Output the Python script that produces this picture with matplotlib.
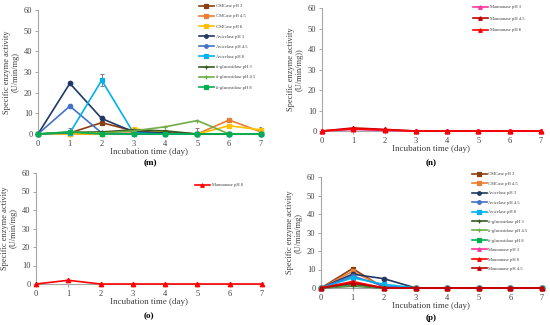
import matplotlib
matplotlib.use("Agg")
import matplotlib.pyplot as plt
import numpy as np

plt.rcParams['font.family'] = ['Liberation Serif', 'DejaVu Serif']

days = [0, 1, 2, 3, 4, 5, 6, 7]
y_ticks = [0, 10, 20, 30, 40, 50, 60]

# ---- panel (m) ----
m_labels = ["CMCase pH 3", "CMCase pH 4.5", "CMCase pH 8",
            "Avicelase pH 3", "Avicelase pH 4.5", "Avicelase pH 8",
            "ß-glucosidase pH 3", "ß-glucosidase pH 4.5", "ß-glucosidase pH 8"]
m_cmc_3 = [0, 0.5, 5.5, 1.5, 0.5, 0, 0, 0]
m_cmc_45 = [0, 0, 0, 0.5, 0, 0, 6.8, 1]
m_cmc_8 = [0, 0, 0, 2.5, 1, 0, 4, 2]
m_avi_3 = [0, 24.5, 7.5, 1, 0.5, 0, 0, 0]
m_avi_45 = [0, 13.5, 0.5, 0, 0, 0, 0, 0]
m_avi_8 = [0, 0.5, 26, 0.5, 0, 0, 0, 0]
m_glu_3 = [0, 0.8, 1, 2, 1.5, 0, 0, 0]
m_glu_45 = [0, 1, 0.5, 1.5, 3.5, 6.5, 0, 0]
m_glu_8 = [0, 1, 0, 0, 0, 0, 0, 0]
m_err_avi_8 = [0, 0, 3, 0, 0, 0, 0, 0]
m_err_glu_3 = [0, 2, 0, 0, 0, 3, 0, 0]
m_err_cmc_8 = [0, 0, 0, 0, 0, 0, 0, 1.5]

# ---- panel (n) ----
n_labels = ["Mannanase pH 3", "Mannanase pH 4.5", "Mannanase pH 8"]
n_man_3 = [0, 0.8, 0.3, 0, 0, 0, 0, 0]
n_man_45 = [0, 1.5, 0.8, 0, 0, 0, 0, 0]
n_man_8 = [0, 1.0, 0.5, 0, 0, 0, 0, 0]

# ---- panel (o) ----
o_labels = ["Mannanase pH 8"]
o_man_8 = [0, 2, 0, 0, 0, 0, 0, 0]

# ---- panel (p) ----
p_labels = ["CMCase pH 3", "CMCase pH 4.5", "Avicelase pH 3", "Avicelase pH 4.5",
            "Avicelase pH 8", "ß-glucosidase pH 3", "ß-glucosidase pH 4.5",
            "ß-glucosidase pH 8", "Mannanase pH 3", "Mannanase pH 8", "Mannanase pH 4.5"]
p_cmc_3 = [0, 10.5, 0, 0, 0, 0, 0, 0]
p_cmc_45 = [0, 9, 0.5, 0, 0, 0, 0, 0]
p_avi_3 = [0, 7.5, 5, 0, 0, 0, 0, 0]
p_avi_45 = [0, 6.5, 1, 0, 0, 0, 0, 0]
p_avi_8 = [0, 5.5, 2, 0, 0, 0, 0, 0]
p_glu_3 = [0, 1, 0, 0, 0, 0, 0, 0]
p_glu_45 = [0, 1.5, 0, 0, 0, 0, 0, 0]
p_glu_8 = [0, 2, 0, 0, 0, 0, 0, 0]
p_man_3 = [0, 3, 0, 0, 0, 0, 0, 0]
p_man_8 = [0, 3.5, 0, 0, 0, 0, 0, 0]
p_man_45 = [0, 2.5, 0, 0, 0, 0, 0, 0]

C = {
    'cmc3': '#8B3E12', 'cmc45': '#ED7D31', 'cmc8': '#FFC000',
    'avi3': '#203864', 'avi45': '#4472C4', 'avi8': '#00B0F0',
    'glu3': '#385723', 'glu45': '#70AD47', 'glu8': '#00B050',
    'man3': '#FF3399', 'man45': '#C00000', 'man8': '#FF0000',
}

W, H = 550, 325
fig = plt.figure(figsize=(5.5, 3.25), dpi=100)

AX_GREY = '#A6A6A6'
TXT = '#404040'


def make_axes(l, r, t, b, ylabel):
    ax = fig.add_axes([l / W, 1 - b / H, (r - l) / W, (b - t) / H])
    ax.set_xlim(0, 7)
    ax.set_ylim(0, 60)
    ax.set_xticks(days)
    ax.set_yticks(y_ticks)
    for s in ['top', 'right']:
        ax.spines[s].set_visible(False)
    for s in ['left', 'bottom']:
        ax.spines[s].set_color(AX_GREY)
        ax.spines[s].set_linewidth(0.8)
    ax.tick_params(axis='both', colors=AX_GREY, labelcolor=TXT, labelsize=6,
                   length=2.5, width=0.7, pad=1.5)
    ax.set_ylabel(ylabel, fontsize=6, color=TXT, labelpad=3, linespacing=1.1)
    ax.set_xlabel("Incubation time (day)", fontsize=6.5, color=TXT, labelpad=0.5)
    return ax


def series(ax, y, color, marker, label, yerr=None, ms=3.2):
    if yerr is not None:
        ax.errorbar(days, y, yerr=yerr, fmt='none', ecolor='#7F7F7F',
                    elinewidth=0.7, capsize=1.5, capthick=0.7, zorder=1)
    ax.plot(days, y, color=color, marker=marker, ms=ms, lw=1.2, label=label,
            markeredgewidth=0.9, clip_on=False, zorder=3)


def legend(ax, x, y, spacing):
    ax.legend(loc='upper left', bbox_to_anchor=(x / W, 1 - y / H),
              bbox_transform=fig.transFigure, frameon=False, fontsize=3.3,
              handlelength=3.2, handletextpad=0.4, labelspacing=spacing,
              borderpad=0, borderaxespad=0, markerscale=0.8, labelcolor=TXT)


def panel_label(x, y, s):
    fig.text(x / W, 1 - y / H, s, fontsize=6.5, fontweight='bold',
             ha='center', va='center', color='#000000')


# (m)
axm = make_axes(38, 261, 10, 134, "Specific enzyme activity\n(U/min/mg)")
series(axm, m_cmc_3, C['cmc3'], 's', m_labels[0])
series(axm, m_cmc_45, C['cmc45'], 's', m_labels[1])
series(axm, m_cmc_8, C['cmc8'], 's', m_labels[2], yerr=m_err_cmc_8)
series(axm, m_avi_3, C['avi3'], 'o', m_labels[3])
series(axm, m_avi_45, C['avi45'], 'o', m_labels[4])
series(axm, m_avi_8, C['avi8'], 's', m_labels[5], yerr=m_err_avi_8)
series(axm, m_glu_3, C['glu3'], '+', m_labels[6], yerr=m_err_glu_3)
series(axm, m_glu_45, C['glu45'], '+', m_labels[7])
series(axm, m_glu_8, C['glu8'], 's', m_labels[8])
legend(axm, 199, 4, 1.3)
panel_label(150, 163.5, "(m)")

# (n)
axn = make_axes(322, 541, 8, 131, "Specific enzyme activity\n(U/min/mg))")
series(axn, n_man_3, C['man3'], '^', n_labels[0])
series(axn, n_man_45, C['man45'], '^', n_labels[1])
series(axn, n_man_8, C['man8'], '^', n_labels[2])
legend(axn, 473, 5, 1.6)
panel_label(431, 163.5, "(n)")

# (o)
axo = make_axes(36, 262, 173, 284, "Specific enzyme activity\n(U/min/mg)")
series(axo, o_man_8, C['man8'], '^', o_labels[0])
legend(axo, 195, 183, 1.55)
panel_label(149, 316, "(o)")

# (p)
axp = make_axes(321, 542, 177, 288, "Specific enzyme activity\n(U/min/mg)")
series(axp, p_cmc_3, C['cmc3'], 's', p_labels[0])
series(axp, p_cmc_45, C['cmc45'], 's', p_labels[1])
series(axp, p_avi_3, C['avi3'], 'o', p_labels[2])
series(axp, p_avi_45, C['avi45'], 'o', p_labels[3])
series(axp, p_avi_8, C['avi8'], 's', p_labels[4])
series(axp, p_glu_3, C['glu3'], '+', p_labels[5])
series(axp, p_glu_45, C['glu45'], '+', p_labels[6])
series(axp, p_glu_8, C['glu8'], 's', p_labels[7])
series(axp, p_man_3, C['man3'], '^', p_labels[8])
series(axp, p_man_8, C['man8'], '^', p_labels[9])
series(axp, p_man_45, C['man45'], '^', p_labels[10])
legend(axp, 472, 172, 1.15)
panel_label(431, 318, "(p)")

fig.savefig("out.png", dpi=100)
